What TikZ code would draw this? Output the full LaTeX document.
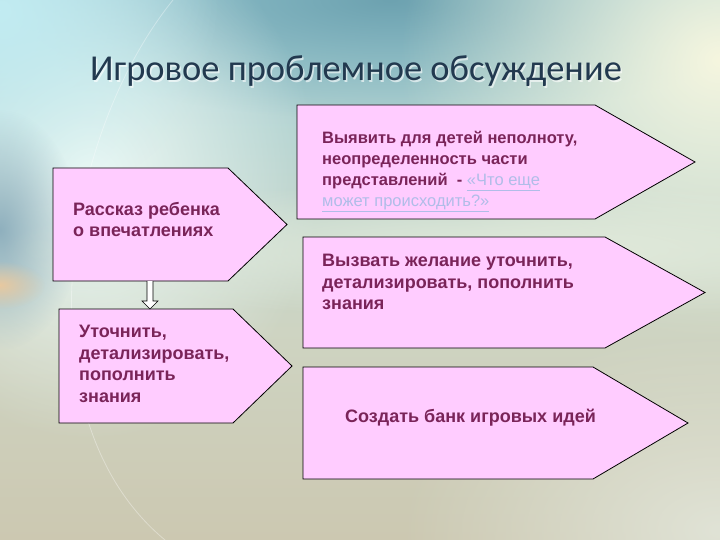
\documentclass[tikz,border=0pt]{standalone}
\usepackage{fontspec}
\setmainfont{Liberation Sans}
\newfontfamily\titlefont{Carlito}
\usetikzlibrary{positioning,calc,fadings}

\definecolor{boxfill}{HTML}{FFCCFF}
\definecolor{boxtext}{HTML}{7A2459}
\definecolor{titleblue}{HTML}{22394F}
\definecolor{linkblue}{HTML}{B0BDE8}
\definecolor{khaki}{HTML}{CCC8B1}

\tikzfading[name=glow, inner color=transparent!0, outer color=transparent!100]

\tikzset{
  pbox/.style={draw=black, line width=0.8pt, fill=boxfill},
  btext/.style={anchor=north west, inner sep=0pt, align=left, text=boxtext,
    font=\fontsize{18}{21.5}\selectfont\bfseries},
  hollow/.style={draw=black, line width=0.6pt, fill=white},
  blob/.style={path fading=glow},
}

\begin{document}
\begin{tikzpicture}[x=1pt,y=-1pt]
		\useasboundingbox (0,0) rectangle (720,540);
		
		% background
		\fill[khaki] (0,0) rectangle (720,540);
		\shade[top color={rgb,255:red,160;green,208;blue,216}, bottom color={rgb,255:red,206;green,212;blue,194}] (0,0) rectangle (720,330);
		\shade[top color={rgb,255:red,206;green,212;blue,194}, bottom color=khaki] (0,330) rectangle (720,540);
		\foreach \cx/\cy/\rx/\ry/\col in {390/0/400/120/6DA2B0, 720/60/320/280/F6F6DF, 90/180/230/260/EEFAF6,
			0/10/220/200/C2ECF2, 0/230/80/120/8FB0BE, 0/285/45/24/E8C9A0, 520/250/520/70/E2EBDC, 720/530/320/200/E0E3D6}
		{
			\definecolor{tmpc}{HTML}{\col}
			\fill[tmpc, blob] (\cx,\cy) ellipse [x radius=\rx, y radius=\ry];
		}
		\draw[white, opacity=0.35, line width=0.8pt] (173,0) .. controls (60,140) and (20,420) .. (165,540);
		
		% title
		\node[anchor=base west, inner sep=0pt, text=white, opacity=0.6, font=\titlefont\fontsize{36.5}{40}\selectfont] (titleshadow) at (91.5,82.5) {Игровое проблемное обсуждение};
		\node[anchor=base west, inner sep=0pt, text=titleblue, font=\titlefont\fontsize{36.5}{40}\selectfont] (title) at (90,81) {Игровое проблемное обсуждение};
		
		% arrow boxes: name / left / top / end of body / tip / bottom
		\foreach \nm/\l/\t/\r/\p/\b in {rb/53/168/228/287/281, ut/59/309/233/292/423,
			vy/297/105/595/695/219, vz/303/237/605/705/348, sb/303/367/593/688/479}
		{
			\draw[pbox] (\l,\t) -- (\r,\t) -- (\p,{(\t+\b)/2}) -- (\r,\b) -- (\l,\b) -- cycle;
			\coordinate (\nm-nw) at (\l,\t);
		}
		\coordinate (rb-s) at (150,281);
		\coordinate (ut-n) at (150,309);
		
		% hollow arrow
		\draw[hollow] ($(rb-s)+(-3,0)$) -- ($(ut-n)+(-3,-8)$) -- ($(ut-n)+(-8,-8)$) -- (ut-n)
			-- ($(ut-n)+(8,-8)$) -- ($(ut-n)+(3,-8)$) -- ($(rb-s)+(3,0)$);
		
		% texts
		\node[btext] (rbtext) at (73,202) {Рассказ ребенка\\о впечатлениях};
		\node[btext] (uttext) at (79,325) {Уточнить,\\детализировать,\\пополнить\\знания};
		\node[btext, font=\fontsize{16.5}{21}\selectfont\bfseries] (vytext) at (322,131)
			{Выявить для детей неполноту,\\неопределенность части\\представлений~ - {\mdseries\color{linkblue}\underline{«Что еще}}\\{\mdseries\color{linkblue}\underline{может происходить?»}}};
		\node[btext] (vztext) at (322,254) {Вызвать желание уточнить,\\детализировать, пополнить\\знания};
		\node[btext] (sbtext) at (345,409) {Создать банк игровых идей};
		
\end{tikzpicture}
\end{document}
